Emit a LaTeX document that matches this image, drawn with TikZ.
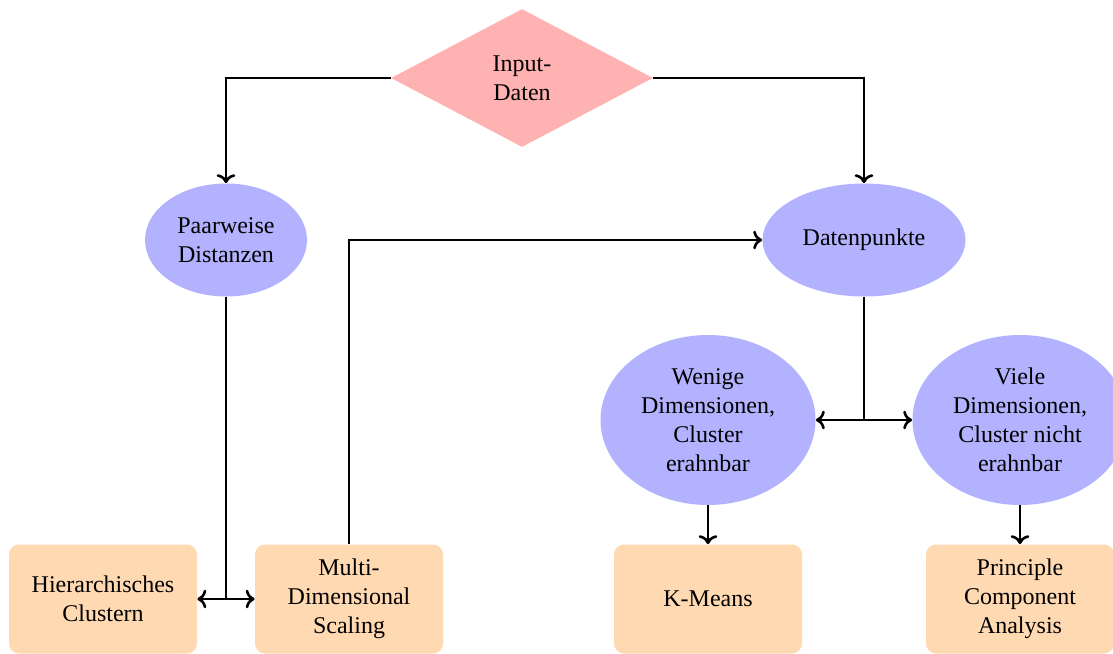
\documentclass[tikz,border=0pt]{standalone}
\usepackage{fontspec}
\setmainfont{Liberation Serif}
\usetikzlibrary{shapes.geometric,arrows.meta}
\begin{document}
\begin{tikzpicture}[x=0.5pt,y=-0.5pt,
  every node/.style={font=\fontsize{12}{14.5}\selectfont, align=center},
  decision/.style={diamond, fill=red!30, inner sep=0pt, minimum width=131pt, minimum height=69pt},
  dataell/.style={ellipse, fill=blue!30, inner sep=0pt},
  method/.style={rectangle, rounded corners=5pt, fill=orange!30, minimum width=94pt, minimum height=54.5pt, inner sep=0pt},
  conn/.style={line width=1.3pt, ->}]
\useasboundingbox (0,0) rectangle (1113,653);
\begin{scope}
\clip (0,0) rectangle (1113,653);
\node[decision] (input) at (522,78) {Input-\\Daten};
\node[dataell, minimum width=81pt, minimum height=56.5pt] (pd) at (226,240) {Paarweise\\Distanzen};
\node[dataell, minimum width=101.5pt, minimum height=56.5pt] (dp) at (864,240) {Datenpunkte};
\node[dataell, minimum width=107.5pt, minimum height=85pt] (wen) at (708,420) {Wenige\\Dimensionen,\\Cluster\\erahnbar};
\node[dataell, minimum width=107.5pt, minimum height=85pt] (viele) at (1020,420) {Viele\\Dimensionen,\\Cluster nicht\\erahnbar};
\node[method] (hc) at (103,599) {Hierarchisches\\Clustern};
\node[method] (mds) at (349,599) {Multi-\\Dimensional\\Scaling};
\node[method] (km) at (708,599) {K-Means};
\node[method] (pca) at (1020,599) {Principle\\Component\\Analysis};

\draw[conn] (input.west) -| (pd.north);
\draw[conn] (input.east) -| (dp.north);
\draw[conn] (pd.south) |- (hc.east);
\draw[conn] (pd.south) |- (mds.west);
\draw[conn] (mds.north) |- (dp.west);
\draw[conn] (dp.south) |- (wen.east);
\draw[conn] (dp.south) |- (viele.west);
\draw[conn] (wen.south) -- (km.north);
\draw[conn] (viele.south) -- (pca.north);
\end{scope}
\end{tikzpicture}
\end{document}
